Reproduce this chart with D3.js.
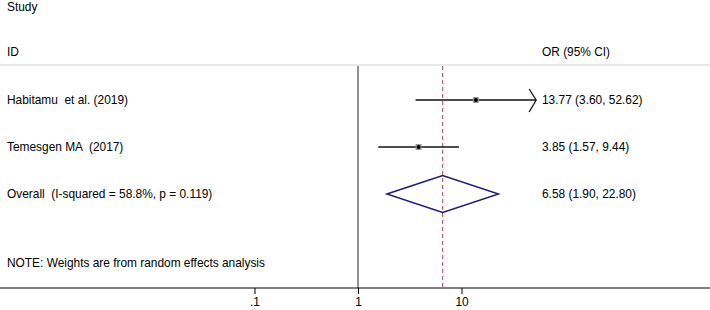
<!DOCTYPE html>
<html>
<head>
<meta charset="utf-8">
<script src="https://cdn.jsdelivr.net/npm/d3@7"></script>
<style>
body{margin:0;background:#fff;}
text{font-family:"Liberation Sans", Arial, sans-serif; white-space:pre;}
</style>
</head>
<body>
<div id="chart"></div>
<script>
let studies = ["Habitamu  et al. (2019)", "Temesgen MA  (2017)"]
let est = [13.77, 3.85]
let lower = [3.60, 1.57]
let upper = [52.62, 9.44]
let estLabels = ["13.77 (3.60, 52.62)", "3.85 (1.57, 9.44)"]
let overallLabel = "Overall  (I-squared = 58.8%, p = 0.119)"
let overall = {est: 6.58, lo: 1.90, hi: 22.80}
let overallText = "6.58 (1.90, 22.80)"
let tickValues = [0.1, 1, 10]
let tickLabels = [".1", "1", "10"]

let width = 710, height = 310
let svg = d3.select("#chart").append("svg")
    .attr("width", width).attr("height", height)

// log scale, 1 at x=358, ~103.5px per decade
let xScale = d3.scaleLog().domain([0.1, 10]).range([254.5, 461.5])
let rowY = d3.scalePoint().domain([0, 1, 2]).range([100, 194])

let fs = "11.9px"
let plotTop = 65, axisY = 288

// headers
svg.append("text").attr("x", 7).attr("y", 11).text("Study").style("font-size", fs)
svg.append("text").attr("x", 7).attr("y", 56).text("ID").style("font-size", fs)
svg.append("text").attr("x", 542).attr("y", 56).text("OR (95% CI)").style("font-size", fs)

svg.append("line").attr("x1", 0).attr("x2", width).attr("y1", plotTop).attr("y2", plotTop)
    .style("stroke", "#d4d4d4").style("stroke-width", 1.2)

// null line
svg.append("line").attr("x1", xScale(1)).attr("x2", xScale(1)).attr("y1", plotTop + 1).attr("y2", axisY)
    .style("stroke", "#777").style("stroke-width", 1.6)

// overall dashed line
svg.append("line").attr("x1", xScale(overall.est)).attr("x2", xScale(overall.est))
    .attr("y1", plotTop + 1).attr("y2", axisY)
    .style("stroke", "#a8404a").style("stroke-width", 1)
    .style("stroke-dasharray", "4,3")

// axis
let axis = d3.axisBottom(xScale).tickValues(tickValues)
    .tickFormat((d, i) => tickLabels[i]).tickSize(6)
let ax = svg.append("g").attr("transform", "translate(0," + axisY + ")").call(axis)
ax.select(".domain").remove()
ax.selectAll("line").style("stroke", "#000")
ax.selectAll("text").style("font-size", fs).style("font-family", "Liberation Sans, Arial").attr("y", 10)
svg.append("line").attr("x1", 0).attr("x2", width).attr("y1", axisY).attr("y2", axisY)
    .style("stroke", "#000").style("stroke-width", 1.2)

// studies
studies.forEach((s, i) => {
    let y = rowY(i)
    svg.append("text").attr("x", 7).attr("y", y + 4).text(s).style("font-size", fs)
    svg.append("text").attr("x", 542).attr("y", y + 4).text(estLabels[i]).style("font-size", fs)
    let x1 = xScale(lower[i]), x2 = xScale(upper[i])
    svg.append("line").attr("x1", x1).attr("x2", x2).attr("y1", y).attr("y2", y)
        .style("stroke", "#111").style("stroke-width", 1.3)
    if (upper[i] > 50) {
        svg.append("path")
            .attr("d", "M" + (x2 - 7) + "," + (y - 11) + "L" + x2 + "," + y + "L" + (x2 - 7) + "," + (y + 12))
            .style("fill", "none").style("stroke", "#111").style("stroke-width", 1.3)
    }
    let cx = xScale(est[i])
    svg.append("rect").attr("x", cx - 3).attr("y", y - 3).attr("width", 6).attr("height", 6)
        .style("fill", "#999")
    svg.append("circle").attr("cx", cx).attr("cy", y).attr("r", 2).style("fill", "#000")
})

// overall diamond
let oy = rowY(2)
svg.append("text").attr("x", 7).attr("y", oy + 4).text(overallLabel).style("font-size", fs)
svg.append("text").attr("x", 542).attr("y", oy + 4).text(overallText).style("font-size", fs)
svg.append("path")
    .attr("d", "M" + xScale(overall.lo) + "," + oy +
        "L" + xScale(overall.est) + "," + (oy - 18.5) +
        "L" + xScale(overall.hi) + "," + oy +
        "L" + xScale(overall.est) + "," + (oy + 18.5) + "Z")
    .style("fill", "none").style("stroke", "#1a1a80").style("stroke-width", 1.4)

svg.append("text").attr("x", 7).attr("y", 267).text("NOTE: Weights are from random effects analysis")
    .style("font-size", fs)
</script>
</body>
</html>
